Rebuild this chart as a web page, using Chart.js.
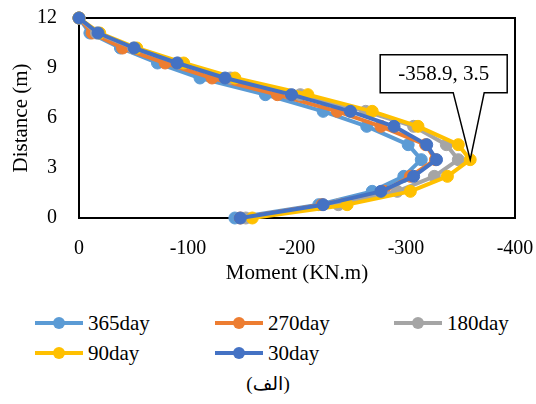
<!DOCTYPE html>
<html>
<head>
<meta charset="utf-8">
<script src="https://cdn.jsdelivr.net/npm/chart.js@4.4.1/dist/chart.umd.min.js"></script>
<style>
  html, body { margin: 0; padding: 0; background: #fff; }
  #wrap { position: relative; width: 536px; height: 404px; overflow: hidden;
          font-family: "Liberation Serif", "Times New Roman", serif; color: #000; }
  #c { position: absolute; left: 0; top: 0; }
  .leg { position: absolute; height: 20px; display: flex; align-items: center;
         font-size: 21px; white-space: nowrap; }
  .sw { position: relative; width: 48px; height: 20px; margin-right: 5px; }
  .sw .ln { position: absolute; left: 0; right: 0; top: 8px; height: 4px; }
  .sw .dt { position: absolute; left: 18px; top: 4px; width: 12px; height: 12px; border-radius: 50%; }
  #cap { position: absolute; left: 0; width: 536px; top: 372px; text-align: center;
         font-size: 19px; font-family: "Liberation Serif", "DejaVu Sans", serif; }
</style>
</head>
<body>
<div id="wrap">
  <canvas id="c" width="536" height="290"></canvas>
  <div id="legend"></div>
  <div id="cap">(الف)</div>
</div>
<script>
// Depth below the top of the wall (m)
const depth = [12, 11.1, 10.2, 9.3, 8.4, 7.4, 6.4, 5.5, 4.4, 3.5, 2.5, 1.6, 0.8, 0];

// Bending moment (KN.m) at each depth, one array per age
const moment365 = [0, -10, -38, -72, -111, -171, -224, -264, -302, -314, -298, -269, -220, -143];
const moment270 = [0, -12, -40, -79, -122, -182, -237, -277, -318, -327, -304, -280, -223, -148];
const moment180 = [0, -16, -50, -91, -139, -203, -263, -307, -337, -348, -326, -292, -238, -153];
const moment90  = [0, -19, -53, -96, -143, -210, -269, -311, -348, -358.9, -338, -304, -246, -159];
const moment30  = [0, -17.5, -50.6, -90, -134, -195, -249, -289, -319, -328, -307, -277, -224, -148];

const seriesNames  = ['365day', '270day', '180day', '90day', '30day'];
const seriesValues = [moment365, moment270, moment180, moment90, moment30];
const seriesColors = ['#5B9BD5', '#ED7D31', '#A5A5A5', '#FFC000', '#4472C4'];

// Axis tick labels
const xTicks = [0, -100, -200, -300, -400];
const yTicks = [0, 3, 6, 9, 12];

const FONT = '"Liberation Serif", "Times New Roman", serif';

const datasets = seriesNames.map((name, i) => ({
  label: name,
  data: depth.map((d, k) => ({ x: seriesValues[i][k], y: d })),
  showLine: true,
  borderColor: seriesColors[i],
  backgroundColor: seriesColors[i],
  pointBackgroundColor: seriesColors[i],
  pointBorderColor: seriesColors[i],
  pointBorderWidth: 1,
  pointRadius: 6,
  borderWidth: 4,
  borderJoinStyle: 'round',
  borderCapStyle: 'round',
  clip: false,
  order: seriesNames.length - 1 - i   // later ages drawn on top
}));

// Black frame around the plot area
const frame = {
  id: 'frame',
  beforeDatasetsDraw(chart) {
    const { ctx, chartArea: a } = chart;
    ctx.save();
    ctx.strokeStyle = '#000';
    ctx.lineWidth = 2;
    ctx.strokeRect(a.left, a.top, a.right - a.left, a.bottom - a.top);
    ctx.restore();
  }
};

// Callout marking the largest moment of the 90day curve
const callout = {
  id: 'callout',
  afterDatasetsDraw(chart) {
    let k = 0;
    moment90.forEach((v, j) => { if (v < moment90[k]) k = j; });
    const px = chart.scales.x.getPixelForValue(moment90[k]);
    const py = chart.scales.y.getPixelForValue(depth[k]);
    const L = px - 90, R = px + 37, T = py - 105, B = py - 67;
    const { ctx } = chart;
    ctx.save();
    ctx.beginPath();
    ctx.moveTo(L, T);
    ctx.lineTo(R, T);
    ctx.lineTo(R, B);
    ctx.lineTo(px + 14, B);
    ctx.lineTo(px, py);
    ctx.lineTo(px - 17, B);
    ctx.lineTo(L, B);
    ctx.closePath();
    ctx.fillStyle = '#fff';
    ctx.fill();
    ctx.strokeStyle = '#000';
    ctx.lineWidth = 1.5;
    ctx.lineJoin = 'miter';
    ctx.stroke();
    ctx.fillStyle = '#000';
    ctx.font = '21px ' + FONT;
    ctx.textAlign = 'center';
    ctx.textBaseline = 'middle';
    ctx.fillText(moment90[k] + ', ' + depth[k], (L + R) / 2, (T + B) / 2 + 1);
    ctx.restore();
  }
};

new Chart(document.getElementById('c'), {
  type: 'scatter',
  data: { datasets },
  options: {
    responsive: false,
    animation: false,
    events: [],
    layout: { padding: { left: 0, right: 21, top: 18, bottom: 0 }, autoPadding: false },
    plugins: { legend: { display: false }, tooltip: { enabled: false } },
    scales: {
      x: {
        type: 'linear', reverse: true, min: -400, max: 0,
        afterBuildTicks: s => { s.ticks = xTicks.map(v => ({ value: v })); },
        ticks: { color: '#000', font: { family: FONT, size: 20 }, padding: 19 },
        grid: { display: false, drawTicks: false },
        border: { display: false },
        title: { display: true, text: 'Moment (KN.m)', color: '#000',
                 font: { family: FONT, size: 21 }, padding: { top: 0, bottom: 4 } },
        afterFit: s => { s.height = 72; s.paddingLeft = 0; s.paddingRight = 0; }
      },
      y: {
        type: 'linear', min: 0, max: 12,
        afterBuildTicks: s => { s.ticks = yTicks.map(v => ({ value: v })); },
        ticks: { color: '#000', font: { family: FONT, size: 20 }, padding: 22 },
        grid: { display: false, drawTicks: false },
        border: { display: false },
        title: { display: true, text: 'Distance (m)', color: '#000',
                 font: { family: FONT, size: 21 }, padding: { top: 9, bottom: 0 } },
        afterFit: s => { s.width = 79; s.paddingTop = 0; s.paddingBottom = 0; }
      }
    }
  },
  plugins: [frame, callout]
});

// Legend laid out in a three-column grid
const legendCols = [35, 215, 394];
const legendRows = [313, 343];
const legendBox = document.getElementById('legend');
seriesNames.forEach((name, i) => {
  const item = document.createElement('div');
  item.className = 'leg';
  item.style.left = legendCols[i % 3] + 'px';
  item.style.top = legendRows[Math.floor(i / 3)] + 'px';
  const sw = document.createElement('div');
  sw.className = 'sw';
  const ln = document.createElement('div');
  ln.className = 'ln';
  ln.style.background = seriesColors[i];
  const dt = document.createElement('div');
  dt.className = 'dt';
  dt.style.background = seriesColors[i];
  sw.appendChild(ln);
  sw.appendChild(dt);
  const tx = document.createElement('span');
  tx.textContent = name;
  item.appendChild(sw);
  item.appendChild(tx);
  legendBox.appendChild(item);
});
</script>
</body>
</html>
